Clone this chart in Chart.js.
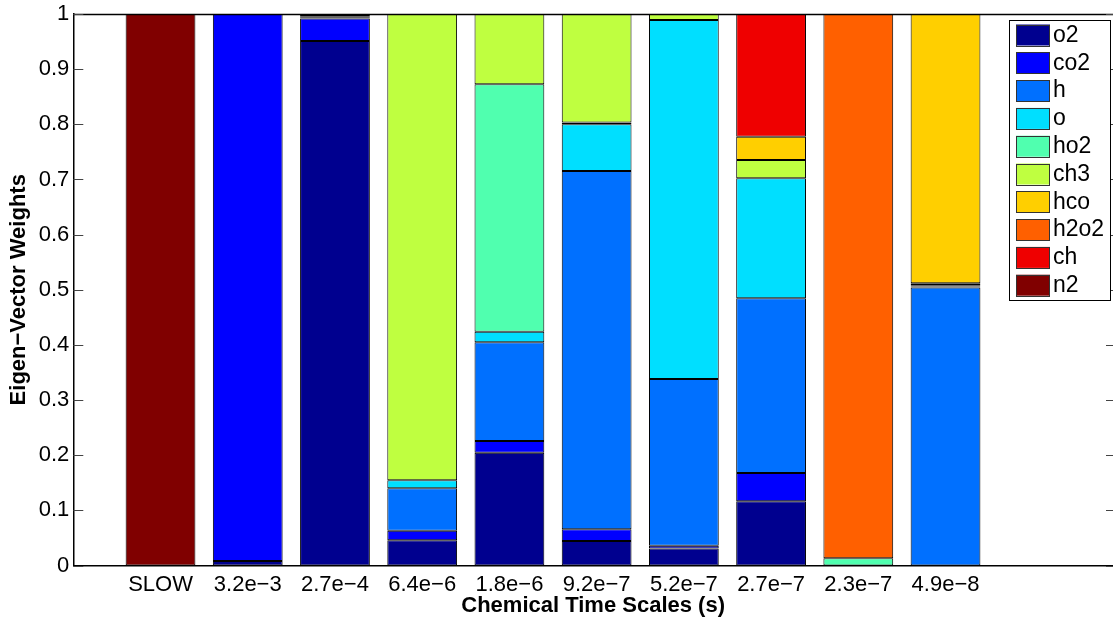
<!DOCTYPE html>
<html>
<head>
<meta charset="utf-8">
<script src="https://cdn.jsdelivr.net/npm/chart.js@4.4.0/dist/chart.umd.min.js"></script>
<style>
  html, body { margin: 0; padding: 0; background: #fff; }
  #wrap { width: 1113px; height: 620px; position: relative; }
</style>
</head>
<body>
<div id="wrap"><canvas id="chart"></canvas></div>
<script>
// Time-scale modes (x categories) and the species that weight each eigenvector
const categories = ['SLOW', '3.2e\u22123', '2.7e\u22124', '6.4e\u22126', '1.8e\u22126',
                    '9.2e\u22127', '5.2e\u22127', '2.7e\u22127', '2.3e\u22127', '4.9e\u22128'];
const species = ['o2', 'co2', 'h', 'o', 'ho2', 'ch3', 'hco', 'h2o2', 'ch', 'n2'];

// Eigen-vector weights per species, one value per time scale (stacked bottom to top)
const o2   = [0, 0.008, 0.951, 0.046, 0.2046, 0.0444, 0.031, 0.1164, 0,     0];
const co2  = [0, 0.992, 0.041, 0.017, 0.0211, 0.0212, 0.005, 0.0513, 0,     0];
const h    = [0, 0,     0.002, 0.077, 0.179,  0.6497, 0.302, 0.3168, 0,     0.504];
const o    = [0, 0,     0.002, 0.0145, 0.0193, 0.085, 0.651, 0.2176, 0,     0.002];
const ho2  = [0, 0,     0.002, 0,     0.4485, 0.003,  0,     0,      0.013, 0.002];
const ch3  = [0, 0,     0.002, 0.8455, 0.1275, 0.1967, 0.011, 0.0332, 0,    0.004];
const hco  = [0, 0,     0,     0,     0,      0,      0,     0.0422, 0,     0.488];
const h2o2 = [0, 0,     0,     0,     0,      0,      0,     0,      0.987, 0];
const ch   = [0, 0,     0,     0,     0,      0,      0,     0.2225, 0,     0];
const n2   = [1, 0,     0,     0,     0,      0,      0,     0,      0,     0];

// y-axis tick values
const yTicks = [0, 0.1, 0.2, 0.3, 0.4, 0.5, 0.6, 0.7, 0.8, 0.9, 1];

const seriesValues = [o2, co2, h, o, ho2, ch3, hco, h2o2, ch, n2];
// jet-style palette, one colour per species
const palette = ['#00008f', '#0000ff', '#0070ff', '#00dfff', '#50ffaf',
                 '#bfff40', '#ffcf00', '#ff6000', '#ef0000', '#800000'];

const FONT = '"Liberation Sans", Arial, Helvetica, sans-serif';

const datasets = species.map((name, s) => ({
  label: name,
  data: seriesValues[s].map((v, i) => ({ x: i + 1, y: v })),
  backgroundColor: palette[s],
  borderColor: '#000',
  borderWidth: 1,
  borderSkipped: false,
  barPercentage: 1.0,
  categoryPercentage: 0.8
}));

// Box line on the top edge and inward tick marks on the left/right edges
const frame = {
  id: 'frame',
  afterDatasetsDraw(chart) {
    const { ctx, chartArea: a, scales: { y } } = chart;
    ctx.save();
    ctx.strokeStyle = '#000';
    ctx.lineWidth = 1.5;
    ctx.beginPath();
    ctx.moveTo(a.left, a.top + 0.5);
    ctx.lineTo(a.right, a.top + 0.5);
    ctx.stroke();
    ctx.lineWidth = 1;
    ctx.strokeStyle = '#444';
    yTicks.forEach(v => {
      const py = Math.round(y.getPixelForValue(v)) + 0.5;
      ctx.beginPath();
      ctx.moveTo(a.left, py);
      ctx.lineTo(a.left + 10, py);
      ctx.moveTo(a.right, py);
      ctx.lineTo(a.right - 7, py);
      ctx.stroke();
    });
    ctx.restore();
  }
};

// Boxed legend in the upper-right corner of the plot
const boxLegend = {
  id: 'boxLegend',
  afterDraw(chart) {
    const { ctx } = chart;
    const x0 = 1009.5, y0 = 20.5, w = 101, hgt = 280;
    ctx.save();
    ctx.fillStyle = '#fff';
    ctx.fillRect(x0, y0, w, hgt);
    ctx.strokeStyle = '#000';
    ctx.lineWidth = 1;
    ctx.strokeRect(x0, y0, w, hgt);
    ctx.font = '23px ' + FONT;
    ctx.textBaseline = 'middle';
    ctx.textAlign = 'left';
    chart.data.datasets.forEach((ds, i) => {
      const top = 24.5 + i * 27.8;
      ctx.fillStyle = ds.backgroundColor;
      ctx.fillRect(1016, top, 34, 21);
      ctx.strokeStyle = '#333';
      ctx.strokeRect(1016.5, Math.round(top) + 0.5, 33, 21);
      ctx.fillStyle = '#000';
      ctx.fillText(ds.label, 1053, top + 11);
    });
    ctx.restore();
  }
};

new Chart(document.getElementById('chart'), {
  type: 'bar',
  data: { datasets },
  options: {
    responsive: true,
    maintainAspectRatio: false,
    animation: false,
    layout: { padding: { top: 14, right: 0, bottom: 0, left: 0 }, autoPadding: false },
    plugins: {
      legend: { display: false },
      tooltip: { enabled: false }
    },
    scales: {
      x: {
        type: 'linear',
        stacked: true,
        offset: false,
        min: 0,
        max: 11.92,
        afterFit(scale) {
          scale.height = 54.5;
          scale.paddingLeft = 0;
          scale.paddingRight = 0;
        },
        afterBuildTicks(scale) {
          scale.ticks = categories.map((c, i) => ({ value: i + 1 }));
        },
        grid: { display: false, drawTicks: false, offset: false },
        border: { display: true, color: '#000', width: 1.5 },
        ticks: {
          autoSkip: false,
          maxRotation: 0,
          padding: 6,
          color: '#000',
          font: { family: FONT, size: 22 },
          callback: (v) => categories[v - 1] ?? ''
        },
        title: {
          display: true,
          text: 'Chemical Time Scales (s)',
          color: '#000',
          font: { family: FONT, size: 22, weight: 'bold', lineHeight: 1.15 },
          padding: { top: 0, bottom: 1 }
        }
      },
      y: {
        stacked: true,
        min: 0,
        max: 1,
        afterFit(scale) {
          scale.width = 73.3;
          scale.paddingTop = 0;
          scale.paddingBottom = 0;
        },
        afterBuildTicks(scale) {
          scale.ticks = yTicks.map(v => ({ value: v }));
        },
        grid: { display: false, drawTicks: false },
        border: { display: true, color: '#000', width: 1.5 },
        ticks: {
          padding: 4,
          color: '#000',
          font: { family: FONT, size: 22 },
          callback: (v) => String(Math.round(v * 10) / 10)
        },
        title: {
          display: true,
          text: 'Eigen\u2212Vector Weights',
          color: '#000',
          font: { family: FONT, size: 22, weight: 'bold', lineHeight: 1.2 },
          padding: { top: 6, bottom: 0 }
        }
      }
    }
  },
  plugins: [frame, boxLegend]
});
</script>
</body>
</html>
